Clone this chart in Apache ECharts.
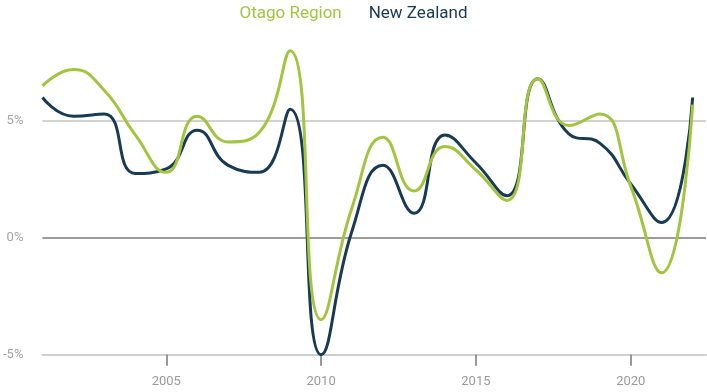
<!DOCTYPE html>
<html>
<head>
<meta charset="utf-8">
<script src="https://cdn.jsdelivr.net/npm/echarts@6/dist/echarts.min.js"></script>
<style>
  html, body { margin: 0; padding: 0; background: #fff; }
  #chart { width: 707px; height: 392px; }
</style>
</head>
<body>
<div id="chart"></div>
<script>
// Annual growth, 2001–2022
const years = [2001, 2002, 2003, 2004, 2005, 2006, 2007, 2008, 2009, 2010, 2011,
               2012, 2013, 2014, 2015, 2016, 2017, 2018, 2019, 2020, 2021, 2022];
const otagoRegion = [6.5, 7.2, 6.3, 4.4, 2.8, 5.2, 4.1, 4.5, 8.0, -3.5, 1.3,
                     4.3, 2.0, 3.9, 2.9, 1.6, 6.8, 4.8, 5.3, 2.2, -1.5, 5.7];
const newZealand = [6.0, 5.2, 5.3, 2.75, 2.95, 4.6, 3.1, 2.8, 5.5, -5.0, 0.3,
                    3.1, 1.05, 4.4, 3.2, 1.8, 6.8, 4.45, 4.05, 2.3, 0.65, 6.0];
const xTickYears = [2005, 2010, 2015, 2020];

const GREEN = '#a2c53f';
const NAVY = '#173a55';

const chart = echarts.init(document.getElementById('chart'));
chart.setOption({
  animation: false,
  textStyle: { fontFamily: 'Roboto, sans-serif' },
  legend: {
    top: 0,
    left: 'center',
    itemGap: 27,
    itemWidth: 0,
    itemHeight: 0,
    icon: 'none',
    textStyle: { fontSize: 17, padding: [0, 0, 0, -5] },
    data: [
      { name: 'Otago Region', textStyle: { color: GREEN } },
      { name: 'New Zealand', textStyle: { color: NAVY } }
    ]
  },
  grid: { left: 39, right: 1, top: 4, bottom: 37.3, containLabel: false },
  xAxis: {
    type: 'value',
    min: years[0],
    max: 2022.43,
    axisLine: { show: true, onZero: false, lineStyle: { color: '#cfcfcf', width: 2 } },
    axisTick: {
      show: true,
      customValues: xTickYears,
      length: 11,
      lineStyle: { color: '#777', width: 1.5 }
    },
    axisLabel: {
      customValues: xTickYears,
      margin: 21,
      fontSize: 13,
      color: '#9a9a9a',
      formatter: v => String(v)
    },
    splitLine: { show: false }
  },
  yAxis: {
    type: 'value',
    min: -5,
    max: 10,
    interval: 5,
    axisLine: { show: false },
    axisTick: { show: false },
    axisLabel: {
      margin: 19,
      fontSize: 13,
      color: '#a5a5a5',
      formatter: v => (v === 10 ? '' : v + '%')
    },
    splitLine: {
      show: true,
      lineStyle: { color: ['rgba(0,0,0,0)', '#9c9c9c', '#d2d2d2', 'rgba(0,0,0,0)'], width: 2 }
    }
  },
  series: [
    {
      name: 'New Zealand',
      type: 'line',
      smooth: 0.5,
      showSymbol: false,
      lineStyle: { color: NAVY, width: 3 },
      itemStyle: { color: NAVY },
      data: years.map((y, i) => [y, newZealand[i]])
    },
    {
      name: 'Otago Region',
      type: 'line',
      smooth: 0.5,
      showSymbol: false,
      lineStyle: { color: GREEN, width: 3 },
      itemStyle: { color: GREEN },
      data: years.map((y, i) => [y, otagoRegion[i]])
    }
  ]
});
</script>
</body>
</html>
